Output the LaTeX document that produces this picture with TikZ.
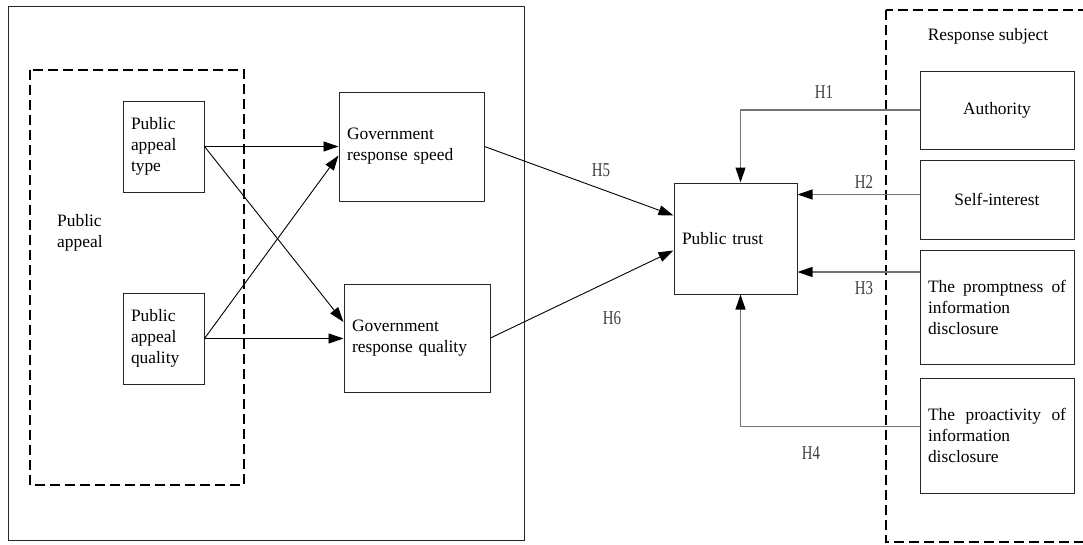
\documentclass[tikz,border=0pt]{standalone}
\usepackage{fontspec}
\setmainfont{Liberation Serif}
\newfontfamily\hfont[FakeStretch=0.76]{Liberation Serif}
\usetikzlibrary{arrows.meta}
\tikzset{
  box/.style={draw=black!85, line width=1pt, inner xsep=8pt, inner ysep=0pt,
    font=\fontsize{17.4}{21}\selectfont},
  frame/.style={draw=black!85, line width=1pt},
  dashframe/.style={draw, line width=2.6pt, dash pattern=on 10pt off 5pt},
  link/.style={-{Triangle[length=15pt,width=10pt]}, line width=0.9pt},
  hlink/.style={-{Triangle[length=15pt,width=10pt,color=black]}, line width=1.1pt, draw=black!55},
  hlabel/.style={text=black!75, font=\hfont\fontsize{19.6}{21}\selectfont},
  plain/.style={inner sep=0pt, align=left, font=\fontsize{17.4}{21}\selectfont}
}
\begin{document}
\begin{tikzpicture}[x=1pt,y=-1pt]
    \useasboundingbox[fill=white] (0,0) rectangle (1083,544);
    \clip (0,0) rectangle (1083,544);
    % frames
    \draw[frame] (8,6) rectangle (524,540);
    \draw[dashframe] (30,70) rectangle (244,485);
    \draw[dashframe] (886,10) rectangle (1100,542);
    \node[plain, anchor=west] (appeal) at (57,233) {Public\\appeal};
    \node[plain] (subject) at (988,36) {Response subject};
    % left side
    \node[box, text width=65pt, minimum height=91pt, align=left] (ptype) at (163.5,146.5) {Public\\appeal\\type};
    \node[box, text width=65pt, minimum height=91pt, align=left] (pqual) at (163.5,338.5) {Public\\appeal\\quality};
    \node[box, text width=129pt, minimum height=109pt, align=left] (speed) at (411.5,146.5) {Government\\response speed};
    \node[box, text width=130pt, minimum height=108pt, align=left] (quality) at (417,338) {Government\\response quality};
    % middle
    \node[box, text width=107pt, minimum height=111pt, align=left] (trust) at (735.5,238.5) {Public trust};
    % right side
    \node[box, text width=138pt, minimum height=78pt, align=center] (auth) at (997,110) {Authority};
    \node[box, text width=138pt, minimum height=79pt, align=center] (self) at (997,199.5) {Self-interest};
    \node[box, text width=138pt, minimum height=114pt, align=left] (prompt) at (997,307) {The\hfill promptness\hfill of\\information\\disclosure};
    \node[box, text width=138pt, minimum height=115pt, align=left] (proact) at (997,435.5) {The\hfill proactivity\hfill of\\information\\disclosure};
    % arrows
    \draw[link] (ptype.east) -- (speed.west);
    \draw[link] (ptype.east) -- ([yshift=16pt]quality.west);
    \draw[link] (pqual.east) -- ([yshift=-9pt]speed.west);
    \draw[link] (pqual.east) -- (pqual.east -| quality.west);
    \draw[link] (speed.east) -- ([yshift=23pt]trust.west);
    \draw[link] (quality.east) -- ([yshift=-12pt]trust.west);
    \draw[hlink] (auth.west) -| ([xshift=5pt]trust.north);
    \draw[hlink] ([yshift=5pt]self.west) -- ([yshift=5pt]self.west -| trust.east);
    \draw[hlink] ([yshift=35pt]prompt.west) -- ([yshift=35pt]prompt.west -| trust.east);
    \draw[hlink] ([yshift=9pt]proact.west) -| ([xshift=5pt]trust.south);
    % hypotheses
    \node[hlabel] (h1) at (824,92) {H1};
    \node[hlabel] (h2) at (864,182) {H2};
    \node[hlabel] (h3) at (864,288) {H3};
    \node[hlabel] (h4) at (811,453) {H4};
    \node[hlabel] (h5) at (601,170) {H5};
    \node[hlabel] (h6) at (612,318) {H6};
\end{tikzpicture}
\end{document}
